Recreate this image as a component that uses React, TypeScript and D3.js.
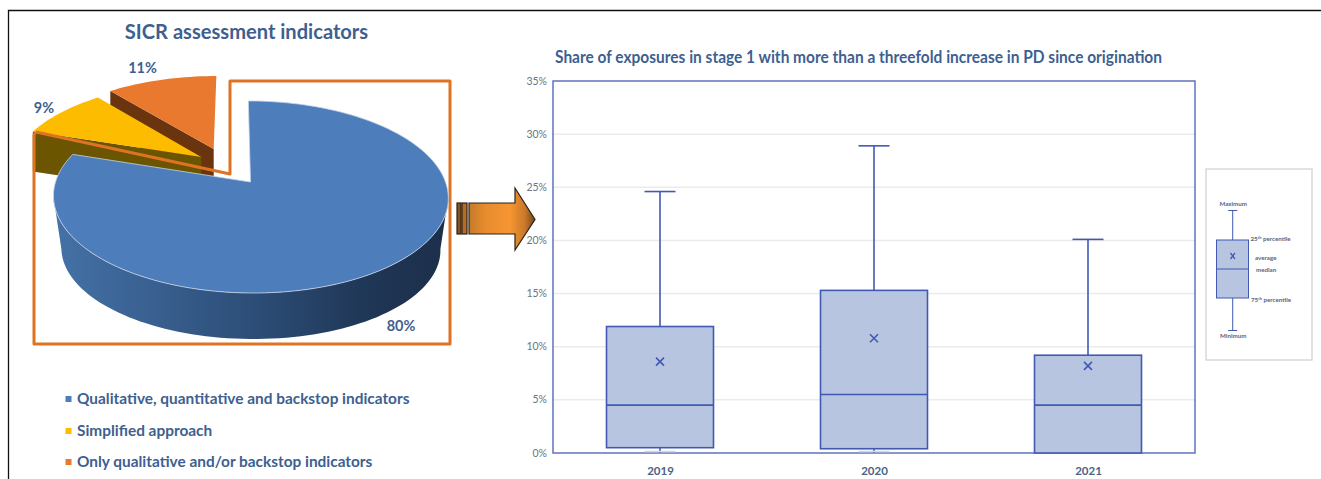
import React from "react";
import * as d3 from "d3";

// Pie: share of banks by SICR assessment approach
const pieLabels = [
  "Qualitative, quantitative and backstop indicators",
  "Simplified approach",
  "Only qualitative and/or backstop indicators",
];
const pieShares = [80, 9, 11];
const pieText = ["80%", "9%", "11%"];
const pieTop = ["#4d7ebb", "#fdbc00", "#e9792e"];
const pieCut = ["#3a5f8f", "#6b5500", "#6a340e"];

// Box plot: share of stage 1 exposures with a threefold PD increase (%)
const years = ["2019", "2020", "2021"];
const maximums = [24.6, 28.9, 20.1];
const upperQuartiles = [11.9, 15.3, 9.2];
const medians = [4.5, 5.5, 4.5];
const lowerQuartiles = [0.5, 0.4, 0];
const minimums = [0, 0, 0];
const means = [8.6, 10.8, 8.2];
const yTicks = [0, 5, 10, 15, 20, 25, 30, 35];

const FONT = "Lato, 'Open Sans', sans-serif";
const NAVY = "#3e5f90";
const BLUE = "#4259b2";
const FILL = "#b7c5e1";

// Circle-to-screen projection giving the tilted pie its perspective,
// with a small horizontal skew so the far rim leans left
const K = 0.156;
const SKEW = 2.5;
const project = (u: number, v: number, dy = 0, sx = 1, sy = 1): [number, number] => {
  const w = 1 + K * v;
  return [250.5 + (195 * sx * u - SKEW * v) / w, 182 + dy - (93.7 * sy * v) / w];
};

const arcs = d3.pie<number>().sort(null).value((d) => d)(pieShares);
// Exploded slices are shifted in the circle's own plane
const explode: [number, number][] = [
  [0, 0],
  [-0.26, 0.278],
  [-0.195, 0.373],
];

const line = d3.line();

function rim(a: number, b: number, off: [number, number], dy = 0, sx = 1, sy = 1) {
  const n = Math.max(8, Math.ceil((b - a) * 30));
  return d3.range(n + 1).map((i) => {
    const t = a + ((b - a) * i) / n;
    return project(off[0] + Math.sin(t), off[1] + Math.cos(t), dy, sx, sy);
  });
}

function slicePath(i: number) {
  const s = arcs[i];
  const c = project(explode[i][0], explode[i][1]);
  return line([c, ...rim(s.startAngle, s.endAngle, explode[i])]) + "Z";
}

function cutPath(i: number, depth: number) {
  const s = arcs[i];
  const off = explode[i];
  const c = project(off[0], off[1]);
  const cd = project(off[0], off[1], depth);
  const p = rim(s.startAngle, s.startAngle, off)[0];
  const pd = rim(s.startAngle, s.startAngle, off, depth)[0];
  return line([p, c, cd, pd]) + "Z";
}

// Outer wall of the main slice, between the widest points of the rim;
// the lower edge is a slightly smaller ellipse so the wall recedes
function wallPath() {
  const from = Math.PI * 0.5 + K;
  const to = Math.PI * 1.5 - K;
  const upper = rim(from, to, [0, 0]);
  const lower = rim(from, to, [0, 0], 53, 0.96, 0.937).reverse();
  return line([...upper, ...lower]) + "Z";
}

const frame: [number, number][] = [
  [36, 132], [34, 135], [34, 344], [450, 344], [450, 81], [230, 81], [230, 174], [36, 132],
];

function BoxPlot() {
  const x = d3.scaleBand().domain(years).range([553, 1195]).paddingInner(0.5).paddingOuter(0.25);
  const y = d3.scaleLinear().domain([0, 35]).range([453, 81]);
  const bw = x.bandwidth();
  return (
    <g>
      {yTicks.map((t) => (
        <g key={t}>
          {t > 0 && t < 35 && <line x1={553} x2={1195} y1={y(t)} y2={y(t)} stroke="#ebebee" strokeWidth={1.5} />}
          <text x={547} y={y(t) + 3.5} textAnchor="end" fontSize={10.5} fill="#6c7480" fontFamily={FONT}>
            {t}%
          </text>
        </g>
      ))}
      <rect x={553} y={81} width={642} height={372} fill="none" stroke={BLUE} strokeWidth={1.5} opacity={0.85} />
      {years.map((yr, i) => {
        const left = x(yr)!;
        const c = left + bw / 2;
        const capW = 15.5;
        const mx = y(means[i]);
        return (
          <g key={yr} stroke={BLUE} strokeWidth={1.6}>
            <line x1={c} x2={c} y1={y(maximums[i])} y2={y(upperQuartiles[i])} />
            <line x1={c - capW} x2={c + capW} y1={y(maximums[i])} y2={y(maximums[i])} />
            <line x1={c} x2={c} y1={y(lowerQuartiles[i])} y2={y(minimums[i])} />
            <line x1={c - capW} x2={c + capW} y1={y(minimums[i]) - 1.5} y2={y(minimums[i]) - 1.5} stroke="#d4d7df" />
            <rect
              x={left}
              y={y(upperQuartiles[i])}
              width={bw}
              height={y(lowerQuartiles[i]) - y(upperQuartiles[i])}
              fill={FILL}
            />
            <line x1={left} x2={left + bw} y1={y(medians[i])} y2={y(medians[i])} />
            <path d={`M${c - 4},${mx - 4}L${c + 4},${mx + 4}M${c + 4},${mx - 4}L${c - 4},${mx + 4}`} fill="none" />
            <text
              x={c + 0.5}
              y={474.5}
              textAnchor="middle"
              fontSize={11.5}
              fontWeight={700}
              fill="#4a6285"
              stroke="none"
              fontFamily={FONT}
            >
              {yr}
            </text>
          </g>
        );
      })}
    </g>
  );
}

// Reading guide beside the box plot
const guideTop = 210.5;
const guideUpper = 240;
const guideMean = 256;
const guideMedian = 269;
const guideLower = 298;
const guideBottom = 330.5;

function Guide() {
  const c = 1232.7;
  const label = { fontSize: 6.2, fontWeight: 700, fill: "#56648a", fontFamily: FONT } as const;
  return (
    <g>
      <rect x={1206} y={169} width={106} height={191} fill="#fff" stroke="#cfcfcf" strokeWidth={1.2} />
      <g stroke={BLUE} strokeWidth={1}>
        <line x1={c} x2={c} y1={guideTop} y2={guideBottom} />
        <line x1={c - 4.5} x2={c + 4.5} y1={guideTop} y2={guideTop} />
        <line x1={c - 4.5} x2={c + 4.5} y1={guideBottom} y2={guideBottom} />
        <rect x={1216.5} y={guideUpper} width={32} height={guideLower - guideUpper} fill={FILL} />
        <line x1={1216.5} x2={1248.5} y1={guideMedian} y2={guideMedian} />
        <path
          d={`M${c - 2.2},${guideMean - 3}L${c + 2.2},${guideMean + 3}M${c + 2.2},${guideMean - 3}L${c - 2.2},${guideMean + 3}`}
          fill="none"
          strokeWidth={1.3}
        />
      </g>
      <text x={c + 0.5} y={206} textAnchor="middle" {...label}>Maximum</text>
      <text x={c + 0.5} y={338} textAnchor="middle" {...label}>Minimum</text>
      <text x={1250.5} y={241} {...label}>
        25<tspan dy={-2} fontSize={4}>th</tspan><tspan dy={2}> percentile</tspan>
      </text>
      <text x={1255} y={259.5} {...label}>average</text>
      <text x={1256} y={272} {...label}>median</text>
      <text x={1251} y={301.5} {...label}>
        75<tspan dy={-2} fontSize={4}>th</tspan><tspan dy={2}> percentile</tspan>
      </text>
    </g>
  );
}

export default function App() {
  const legendY = [399, 431, 462];
  return (
    <svg
      width={1321}
      height={479}
      viewBox="0 0 1321 479"
      style={{ position: "absolute", left: 0, top: 0, background: "#fff" }}
    >
      <defs>
        <linearGradient id="wall" gradientUnits="userSpaceOnUse" x1={56} x2={448} y1={0} y2={0}>
          <stop offset="0" stopColor="#4471a6" />
          <stop offset="0.3" stopColor="#365c8b" />
          <stop offset="0.55" stopColor="#2a4a72" />
          <stop offset="0.8" stopColor="#1f3655" />
          <stop offset="1" stopColor="#1c2f4b" />
        </linearGradient>
        <linearGradient id="arrow" x1="0" x2="1" y1="0" y2="0">
          <stop offset="0" stopColor="#c47a2a" />
          <stop offset="0.25" stopColor="#e88c2e" />
          <stop offset="0.62" stopColor="#f79632" />
          <stop offset="0.85" stopColor="#c9782a" />
          <stop offset="1" stopColor="#70451a" />
        </linearGradient>
      </defs>

      {/* page border: left edge and top edge only */}
      <path d="M8.5,479V10.5H1321" fill="none" stroke="#111" strokeWidth={1.3} />

      <text x={246.5} y={39} textAnchor="middle" fontSize={20.1} fontWeight={700} fill={NAVY} fontFamily={FONT}>
        SICR assessment indicators
      </text>

      {/* exploded slices, then the callout frame, then the main slice */}
      <path d={cutPath(2, 40)} fill={pieCut[2]} />
      <path d={slicePath(2)} fill={pieTop[2]} />
      <path d={cutPath(1, 40)} fill={pieCut[1]} />
      <path d={slicePath(1)} fill={pieTop[1]} />
      <path d={line(frame)!} fill="none" stroke="#de7423" strokeWidth={3} strokeLinejoin="round" />
      <path d={wallPath()} fill="url(#wall)" />
      <path d={slicePath(0)} fill={pieTop[0]} stroke="#c9d6e6" strokeWidth={0.8} />

      <text x={401} y={331} textAnchor="middle" fontSize={14.5} fontWeight={700} fill={NAVY} fontFamily={FONT}>{pieText[0]}</text>
      <text x={44} y={113} textAnchor="middle" fontSize={14.5} fontWeight={700} fill={NAVY} fontFamily={FONT}>{pieText[1]}</text>
      <text x={142.5} y={73} textAnchor="middle" fontSize={14.5} fontWeight={700} fill={NAVY} fontFamily={FONT}>{pieText[2]}</text>

      {pieLabels.map((t, i) => (
        <g key={t}>
          <rect x={65.5} y={legendY[i] - 3} width={6} height={6} fill={pieTop[i]} />
          <text x={77} y={legendY[i] + 5} fontSize={15.4} fontWeight={700} fill={NAVY} fontFamily={FONT}>
            {t}
          </text>
        </g>
      ))}

      {/* arrow linking the pie to the box plot */}
      <g stroke="#2b2118" strokeWidth={1.2}>
        <rect x={457} y={203} width={4} height={31} fill="#8a531d" />
        <rect x={462} y={203} width={5} height={31} fill="#b46d27" />
        <path d="M469,203H515V188L535,219.5L515,250V234H469Z" fill="url(#arrow)" />
      </g>

      <text
        x={555}
        y={63}
        fontSize={16.5}
        fontWeight={700}
        fill={NAVY}
        fontFamily={FONT}
        textLength={607}
        lengthAdjust="spacingAndGlyphs"
      >
        Share of exposures in stage 1 with more than a threefold increase in PD since origination
      </text>

      <BoxPlot />
      <Guide />
    </svg>
  );
}
